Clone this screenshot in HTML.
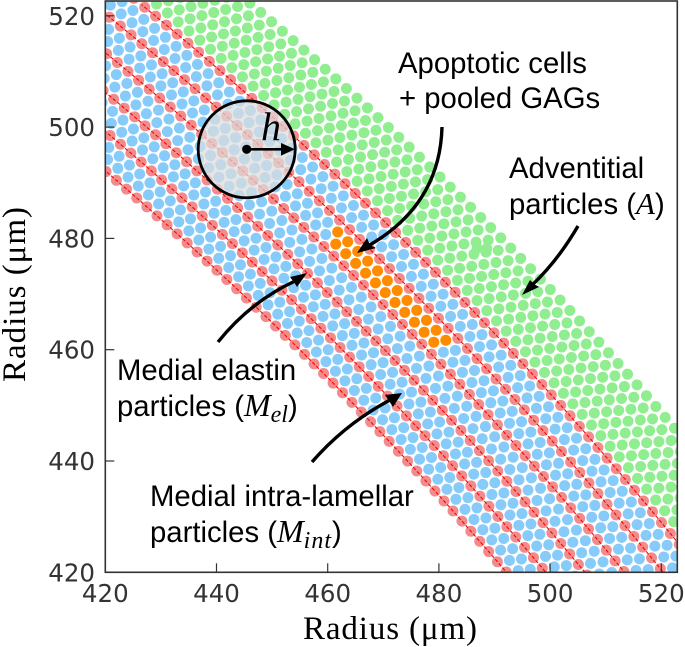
<!DOCTYPE html>
<html>
<head>
<meta charset="utf-8">
<title>Particle layout chart</title>
<style>
html,body{margin:0;padding:0;background:#fff;width:685px;height:647px;overflow:hidden;}
svg{display:block;}
.tick{font-family:"DejaVu Sans",sans-serif;fill:#333;}
.ann{font-family:"Liberation Sans",sans-serif;font-size:29.3px;fill:#000;}
.math{font-family:"Liberation Serif",serif;font-style:italic;}
</style>
</head>
<body>
<svg id="chart" xmlns="http://www.w3.org/2000/svg" width="685" height="647" viewBox="0 0 685 647">
  <defs>
    <clipPath id="plot-clip"><rect x="105.3" y="1" width="572" height="571.3"></rect></clipPath>
  </defs>
  <rect x="0" y="0" width="685" height="647" fill="#fff"></rect>
  <g id="particles" clip-path="url(#plot-clip)"></g>
  <g id="lines" clip-path="url(#plot-clip)"></g>
  <g id="axes"></g>

  <g>
    <circle cx="246.7" cy="149.3" r="48.5" fill="#dcdcdc" fill-opacity="0.72" stroke="#000" stroke-width="2.8"></circle>
    <circle cx="246.7" cy="149.3" r="4.6" fill="#000"></circle>
    <line x1="246.7" y1="149.3" x2="285" y2="149.3" stroke="#000" stroke-width="2.6"></line>
    <polygon points="295,149.3 281,143 281,155.6" fill="#000"></polygon>
    <text x="261" y="140" font-family="Liberation Serif, serif" font-style="italic" font-size="40" fill="#000">h</text>
  </g>

  <g>
    <path d="M442 127 Q440 205 368 246" fill="none" stroke="#000" stroke-width="3.4"></path>
    <polygon points="357,253 367,238 370,245 376,248" fill="#000"></polygon>
    <text class="ann" x="398" y="73">Apoptotic cells</text>
    <text class="ann" x="399" y="108">+ pooled GAGs</text>
  </g>
  <g>
    <path d="M578 226 Q557 262 531 286" fill="none" stroke="#000" stroke-width="3.4"></path>
    <polygon points="522,295 530,280 534,284 539,287" fill="#000"></polygon>
    <text class="ann" x="509" y="178">Adventitial</text>
    <text class="ann" x="509" y="214">particles (<tspan class="math" font-size="31">A</tspan>)</text>
  </g>
  <g>
    <path d="M218 342 Q250 302 295 281" fill="none" stroke="#000" stroke-width="3.4"></path>
    <polygon points="307,273 290,277 294,282 297,287" fill="#000"></polygon>
    <text class="ann" x="117" y="380">Medial elastin</text>
    <text class="ann" x="117" y="416">particles (<tspan class="math" font-size="32">M</tspan><tspan class="math" font-size="24" dy="6">el</tspan><tspan dy="-6">)</tspan></text>
  </g>
  <g>
    <path d="M312 462 Q345 424 390 400" fill="none" stroke="#000" stroke-width="3.4"></path>
    <polygon points="402,393 385,395 389,401 393,407" fill="#000"></polygon>
    <text class="ann" x="150" y="506">Medial intra-lamellar</text>
    <text class="ann" x="150" y="542">particles (<tspan class="math" font-size="32">M</tspan><tspan class="math" font-size="24" dy="6" letter-spacing="1">int</tspan><tspan dy="-6">)</tspan></text>
  </g>

  <text x="303" y="639" font-family="Liberation Serif, serif" font-size="33" fill="#000" textLength="174" lengthAdjust="spacing">Radius (μm)</text>
  <text transform="translate(25,382) rotate(-90)" font-family="Liberation Serif, serif" font-size="33" fill="#000" textLength="175" lengthAdjust="spacing">Radius (μm)</text>
</svg>
<script>
const xTicks = [420, 440, 460, 480, 500, 520];
const yTicks = [420, 440, 460, 480, 500, 520];
const rowRadii = [647.0, 648.8, 650.6, 652.4, 654.2, 656.0, 657.8, 659.6, 661.5, 663.3, 665.1, 666.9, 668.7, 670.5, 672.3, 674.1, 675.9, 677.7, 679.5, 681.3, 683.1, 684.9, 686.8];
const rowKinds = ['el','int','int','el','int','int','el','int','int','el','int','int','el','int','int','el','adv','adv','adv','adv','adv','adv','adv'];
const orangeRows = [10, 11];
const orangeAngleMin = [43.85, 43.72];
const orangeAngleMax = [46.15, 46.27];
const seamParticlesX = [486.9, 488.6];
const seamParticlesY = [478.2, 478.2];
const anchorAngle = 43.92;
const angleStep = 0.2148;
const xMin = 420;
const yMin = 420;

const NS = 'http://www.w3.org/2000/svg';
const kindFill = { el: '#f28b8b', int: '#87cbfa', adv: '#90ee90' };
function xS(v) { return 105.3 + (v - xMin) * 5.56; }
function yS(v) { return 572.3 - (v - yMin) * 5.565; }
function px(r, deg) { return xS(r * Math.cos(deg * Math.PI / 180)); }
function py(r, deg) { return yS(r * Math.sin(deg * Math.PI / 180)); }

const particleLayer = document.getElementById('particles');
const lineLayer = document.getElementById('lines');
const axesLayer = document.getElementById('axes');

rowRadii.forEach(function (r, i) {
  const kind = rowKinds[i];
  for (let k = -40; k <= 40; k++) {
    const deg = anchorAngle + (k + (i % 2) / 2) * angleStep;
    const cx = px(r, deg);
    const cy = py(r, deg);
    if (cx < 98 || cx > 684 || cy < -6 || cy > 579) continue;
    const oi = orangeRows.indexOf(i);
    const isOrange = oi >= 0 && deg >= orangeAngleMin[oi] && deg <= orangeAngleMax[oi];
    const c = document.createElementNS(NS, 'circle');
    
    
    c.setAttribute('cx', cx.toFixed(2));
    c.setAttribute('cy', cy.toFixed(2));
    c.setAttribute('r', '5.5');
    c.setAttribute('fill', isOrange ? '#ff8c00' : kindFill[kind]);
    particleLayer.appendChild(c);
  }
  if (kind === 'el') {
    const pts = [];
    for (let d = 37; d <= 53; d += 0.25) {
      const lx = px(r, d);
      const ly = py(r, d);
      if (lx < 95 || lx > 685 || ly < 0 || ly > 585) continue;
      pts.push(lx.toFixed(2) + ',' + ly.toFixed(2));
    }
    const l = document.createElementNS(NS, 'polyline');
    
    
    l.setAttribute('points', pts.join(' '));
    l.setAttribute('fill', 'none');
    l.setAttribute('stroke', '#ff0000');
    l.setAttribute('stroke-width', '1.1');
    l.setAttribute('stroke-dasharray', '3.6 2');
    lineLayer.appendChild(l);
  }
});

seamParticlesX.forEach(function (x, i) {
  const c = document.createElementNS(NS, 'circle');
  
  
  c.setAttribute('cx', xS(x).toFixed(2));
  c.setAttribute('cy', yS(seamParticlesY[i]).toFixed(2));
  c.setAttribute('r', '5.5');
  c.setAttribute('fill', kindFill.adv);
  particleLayer.appendChild(c);
});

const spine = document.createElementNS(NS, 'rect');


spine.setAttribute('x', '105.3');
spine.setAttribute('y', '1');
spine.setAttribute('width', '572');
spine.setAttribute('height', '571.3');
spine.setAttribute('fill', 'none');
spine.setAttribute('stroke', '#333');
spine.setAttribute('stroke-width', '1.6');
axesLayer.appendChild(spine);

xTicks.forEach(function (v) {
  const t = document.createElementNS(NS, 'line');
  
  
  t.setAttribute('x1', xS(v));
  t.setAttribute('x2', xS(v));
  t.setAttribute('y1', '572.3');
  t.setAttribute('y2', '563.3');
  t.setAttribute('stroke', '#333');
  t.setAttribute('stroke-width', '1.2');
  axesLayer.appendChild(t);
  const s = document.createElementNS(NS, 'text');
  
  
  s.setAttribute('class', 'tick');
  s.setAttribute('x', xS(v));
  s.setAttribute('y', '602');
  s.setAttribute('text-anchor', 'middle');
  s.setAttribute('font-size', '24.5');
  s.textContent = v;
  axesLayer.appendChild(s);
});

yTicks.forEach(function (v) {
  const t = document.createElementNS(NS, 'line');
  
  
  t.setAttribute('x1', '105.3');
  t.setAttribute('x2', '114.3');
  t.setAttribute('y1', yS(v));
  t.setAttribute('y2', yS(v));
  t.setAttribute('stroke', '#333');
  t.setAttribute('stroke-width', '1.2');
  axesLayer.appendChild(t);
  const s = document.createElementNS(NS, 'text');
  
  
  s.setAttribute('class', 'tick');
  s.setAttribute('x', '95');
  s.setAttribute('y', yS(v) + 9);
  s.setAttribute('text-anchor', 'end');
  s.setAttribute('font-size', '24.5');
  s.textContent = v;
  axesLayer.appendChild(s);
});
</script>
</body>
</html>
